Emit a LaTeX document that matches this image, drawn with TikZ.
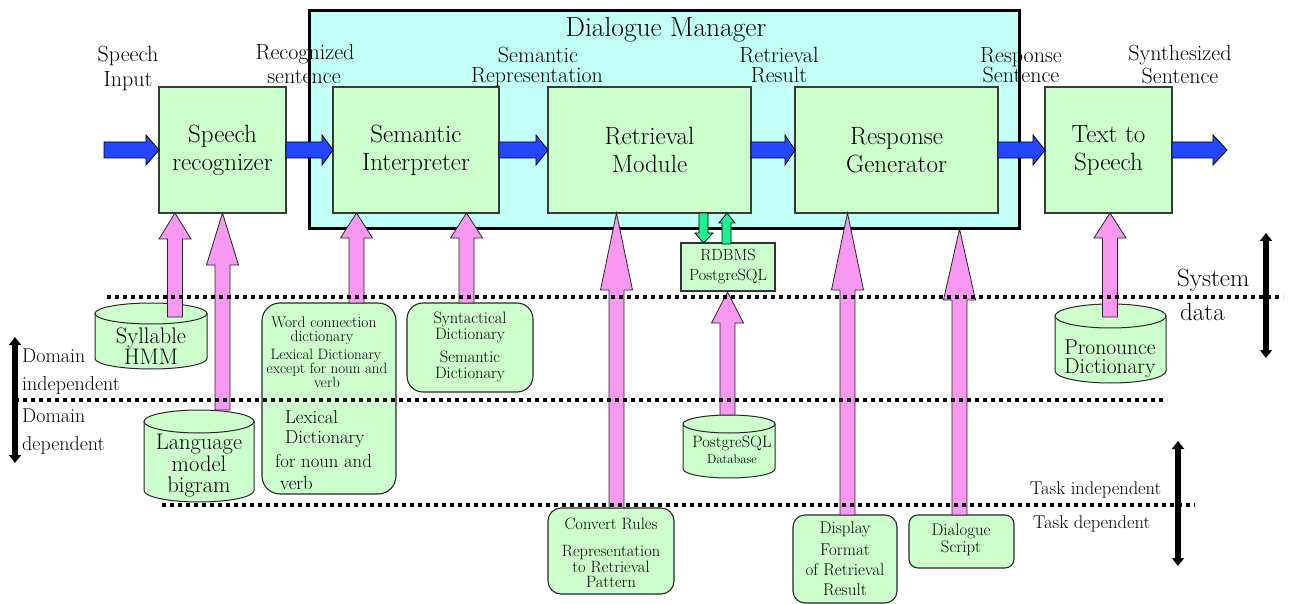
\documentclass[tikz,border=0pt]{standalone}
\usetikzlibrary{arrows.meta}
\definecolor{gfill}{HTML}{CCFFCC}
\definecolor{dmfill}{HTML}{C2FFF7}
\definecolor{blu}{HTML}{2446FF}
\definecolor{pnk}{HTML}{F898F0}
\definecolor{grn}{HTML}{1EF290}
\definecolor{bord}{HTML}{3A3A3A}
\newcount\lnc
\newcommand\fs[1]{\fontsize{#1}{#1}\selectfont}
\newcommand\tx[4]{\global\advance\lnc by 1\relax\node[inner sep=0pt,font=\fs{#1},anchor=base] (tx\the\lnc) at (#2,#3) {#4};}
\newcommand\txl[4]{\global\advance\lnc by 1\relax\node[inner sep=0pt,font=\fs{#1},anchor=base west] (tx\the\lnc) at (#2,#3) {#4};}
% fat upward arrow: xc, tip y, head base y, bottom y, head half width
\newcommand\fatup[5]{\path[parr] (#1-7.5,#4) -- (#1-7.5,#3) -- (#1-#5,#3) -- (#1,#2) -- (#1+#5,#3) -- (#1+7.5,#3) -- (#1+7.5,#4) -- cycle;}
% blue arrow: x start, head start, tip
\newcommand\barrow[3]{\path[barr] (#1,142) -- (#2,142) -- (#2,135) -- (#3,150) -- (#2,165) -- (#2,158) -- (#1,158) -- cycle;}
% cylinder: x1, x2, top, bottom, ry
\newcommand\cyl[5]{%
  \path[cylst] (#1,#3+#5) -- (#1,#4-#5) arc[start angle=180,end angle=0,x radius={(#2-#1)/2},y radius=#5] -- (#2,#3+#5) -- cycle;
  \path[cylst] ({(#1+#2)/2},#3+#5) ellipse[x radius={(#2-#1)/2},y radius=#5];}
\begin{document}
\begin{tikzpicture}[x=1pt,y=-1pt,
  gbox/.style={draw=bord,fill=gfill,line width=1.1pt,inner sep=0pt,align=center,font=\fontsize{25}{28}\selectfont},
  rbox/.style={draw=black!85,fill=gfill,line width=1.1pt,inner sep=0pt},
  cylst/.style={draw=black!85,fill=gfill,line width=1pt},
  parr/.style={draw=black!85,fill=pnk,line width=0.8pt},
  barr/.style={draw=black,fill=blu,line width=0.8pt},
  garr/.style={draw=black,fill=grn,line width=0.8pt},
  dotl/.style={line width=3.5pt,dash pattern=on 4pt off 4pt},
  dbl/.style={line width=5.5pt,{Triangle[length=8pt,width=12pt]}-{Triangle[length=8pt,width=12pt]}}]
\useasboundingbox (0,0) rectangle (1291,604);
\fill[white] (0,0) rectangle (1291,604);

% Dialogue manager
\node[draw=black,fill=dmfill,line width=3pt,minimum width=710pt,minimum height=218pt,inner sep=0pt] (dm) at (664.5,119.5) {};
\tx{27.5}{666}{37}{Dialogue Manager}

% main boxes
\node[gbox,minimum width=127pt,minimum height=126pt] (sr) at (222.5,150) {Speech\\recognizer};
\node[gbox,minimum width=166pt,minimum height=126pt] (si) at (416,150) {Semantic\\Interpreter};
\node[gbox,minimum width=203pt,minimum height=126pt] (rm) at (649.5,150) {Retrieval\\Module};
\node[gbox,minimum width=203pt,minimum height=126pt] (rg) at (896.5,150) {Response\\Generator};
\node[gbox,minimum width=127pt,minimum height=126pt] (tts) at (1108.5,150) {Text to\\Speech};

% blue arrows
\barrow{104}{146}{159}
\barrow{286}{322}{333}
\barrow{499}{536}{548}
\barrow{751}{785}{795}
\barrow{998}{1033}{1045}
\barrow{1172}{1213}{1227}

% top labels
\tx{22}{128}{62}{Speech}
\tx{22}{128}{87}{Input}
\tx{22}{305}{60}{Recognized}
\tx{22}{304}{84}{sentence}
\tx{22}{538}{63}{Semantic}
\tx{22}{537}{83}{Representation}
\tx{22}{779}{63}{Retrieval}
\tx{22}{779}{83}{Result}
\tx{22}{1021}{63}{Response}
\tx{22}{1021}{83}{Sentence}
\tx{22}{1180}{61}{Synthesized}
\tx{22}{1180}{84}{Sentence}

% RDBMS
\node[rbox,draw=black!80,minimum width=94pt,minimum height=48pt] (rdb) at (728,267) {};
\tx{16.2}{728}{261}{RDBMS}
\tx{16.2}{728}{280}{PostgreSQL}
\path[garr] (699,213) -- (699,233) -- (695,233) -- (703.5,243) -- (713,233) -- (708,233) -- (708,213) -- cycle;
\path[garr] (722,244) -- (722,223) -- (719,223) -- (727,213) -- (735,223) -- (731,223) -- (731,244) -- cycle;

% cylinders
\cyl{95}{207}{303}{369}{10.5}
\tx{22.5}{151}{343}{Syllable}
\tx{22.5}{151}{364}{HMM}
\cyl{144}{254}{410}{502}{11.5}
\tx{22.5}{199}{449.5}{Language}
\tx{22.5}{199}{471}{model}
\tx{22.5}{199}{492}{bigram}
\cyl{683}{775}{415}{478}{9}
\tx{16.5}{732}{447}{PostgreSQL}
\tx{12.5}{732}{463}{Database}
\cyl{1055}{1166}{304}{383}{12}
\tx{21.5}{1110}{354}{Pronounce}
\tx{21.5}{1110}{373}{Dictionary}

% rounded boxes
\node[rbox,rounded corners=18pt,minimum width=134pt,minimum height=191pt] (wc) at (329,398.5) {};
\tx{15.5}{324}{327}{Word connection}
\tx{15.5}{322}{341}{dictionary}
\tx{15}{326}{359}{Lexical Dictionary}
\tx{15}{327}{373}{except for noun and}
\tx{15}{327}{387}{verb}
\txl{18.7}{285}{423}{Lexical}
\txl{18.7}{285}{443}{Dictionary}
\txl{18.7}{275}{467}{for noun and}
\txl{18.7}{280}{489}{verb}

\node[rbox,rounded corners=16pt,minimum width=126pt,minimum height=89pt] (syn) at (470,347.5) {};
\tx{16.5}{470}{323.5}{Syntactical}
\tx{16.5}{470}{339}{Dictionary}
\tx{16.5}{470}{362.5}{Semantic}
\tx{16.5}{470}{378}{Dictionary}

\node[rbox,rounded corners=13pt,minimum width=126pt,minimum height=86pt] (conv) at (611,551) {};
\tx{16.4}{611}{529}{Convert Rules}
\tx{16.4}{611}{556}{Representation}
\tx{16.4}{611}{572.5}{to Retrieval}
\tx{16.4}{611}{587}{Pattern}

\node[rbox,rounded corners=12pt,minimum width=104pt,minimum height=88pt] (disp) at (845,559) {};
\tx{17}{845}{533}{Display}
\tx{17}{845}{555}{Format}
\tx{17}{845}{575}{of Retrieval}
\tx{17}{845}{595}{Result}

\node[rbox,rounded corners=9pt,minimum width=105pt,minimum height=53pt] (ds) at (961.5,541.5) {};
\tx{16.8}{961}{535}{Dialogue}
\tx{16.8}{961}{552}{Script}

% pink arrows
\fatup{175}{213}{239}{317}{16}
\fatup{222.5}{213}{265}{410}{16}
\fatup{356.5}{213}{238}{303}{16}
\fatup{466.5}{213}{238}{303}{16}
\fatup{616.5}{213}{290}{508}{16}
\fatup{727.5}{292}{323}{415}{16}
\fatup{847.5}{213}{290}{515}{16}
\fatup{959.5}{229}{300}{515}{16}
\fatup{1110}{213}{238}{317}{16}

% dotted lines
\coordinate (d1a) at (107,297); \coordinate (d1b) at (1283,297);
\coordinate (d2a) at (15,400);  \coordinate (d2b) at (1167,400);
\coordinate (d3a) at (162,505); \coordinate (d3b) at (1195,505);
\draw[dotl] (d1a) -- (d1b);
\draw[dotl] (d2a) -- (d2b);
\draw[dotl] (d3a) -- (d3b);

% side arrows
\coordinate (l1) at (15,337); \coordinate (l2) at (15,463);
\coordinate (r1) at (1266,233); \coordinate (r2) at (1266,358);
\coordinate (t1) at (1178,441); \coordinate (t2) at (1178,566);
\draw[dbl] (l1) -- (l2);
\draw[dbl] (r1) -- (r2);
\draw[dbl] (t1) -- (t2);

% side labels
\txl{20}{22}{362}{Domain}
\txl{20}{22}{390}{independent}
\txl{20}{22}{422}{Domain}
\txl{20}{22}{450}{dependent}
\txl{25}{1177}{287}{System}
\txl{25}{1180}{320}{data}
\txl{18.5}{1030}{494}{Task independent}
\txl{18.5}{1033}{528}{Task dependent}
\end{tikzpicture}
\end{document}
